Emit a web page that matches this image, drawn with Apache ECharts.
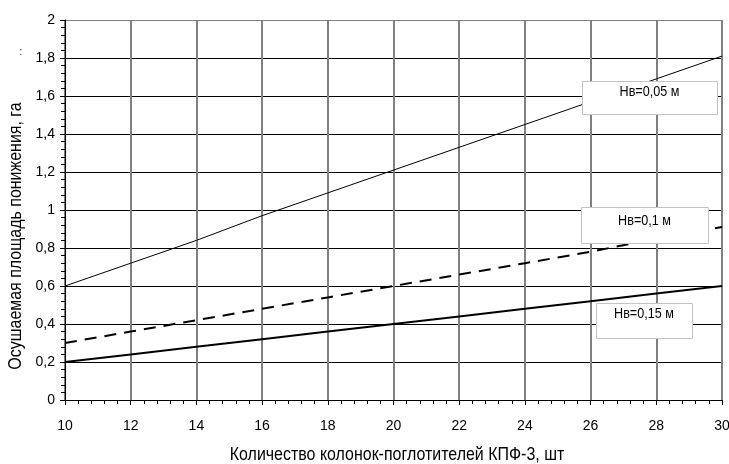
<!DOCTYPE html>
<html>
<head>
<meta charset="utf-8">
<script src="https://cdn.jsdelivr.net/npm/echarts@6/dist/echarts.min.js"></script>
<style>
  html, body { margin: 0; padding: 0; background: #fff; }
  #chart { width: 729px; height: 464px; }
</style>
</head>
<body>
<div id="chart"></div>
<script>
// Number of KPF-3 absorber columns
const columns = [10, 12, 14, 16, 18, 20, 22, 24, 26, 28, 30];

// Drained area (ha) for each water-table lowering depth
const area005 = [0.6, 0.72, 0.84, 0.97, 1.09, 1.21, 1.33, 1.45, 1.57, 1.69, 1.81];
const area010 = [0.3, 0.36, 0.42, 0.48, 0.54, 0.6, 0.66, 0.72, 0.78, 0.85, 0.91];
const area015 = [0.2, 0.24, 0.28, 0.32, 0.36, 0.4, 0.44, 0.48, 0.52, 0.56, 0.6];

const seriesNames = ['Нв=0,05 м', 'Нв=0,1 м', 'Нв=0,15 м'];
const xTitle = 'Количество колонок-поглотителей КПФ-3, шт';
const yTitle = 'Осушаемая площадь понижения, га';

const FONT = '"Liberation Sans Narrow", "Arial Narrow", "Liberation Sans", Arial, sans-serif';
const pairs = arr => columns.map((c, i) => [c, arr[i]]);

// horizontal grid: black, except the top border line which is grey
const yGridColors = ['#000', '#000', '#000', '#000', '#000', '#000', '#000', '#000', '#000', '#000', '#808080'];

// narrow-looking captions: regular sans squeezed horizontally
const SQUEEZE = 0.84;

const chart = echarts.init(document.getElementById('chart'), null, { renderer: 'canvas' });

function tagBox(x, y, w, h, text, textY) {
  return {
    type: 'group',
    children: [
      { type: 'rect', z: 100, shape: { x: x + 0.5, y: y + 0.5, width: w, height: h },
        style: { fill: '#fff', stroke: '#c4c4c4', lineWidth: 1, shadowBlur: 0 } },
      { type: 'text', z: 101, x: x + w / 2, y: textY, scaleX: 0.9,
        style: { x: 0, y: 0, text: text, fill: '#000',
          font: '14px ' + FONT, textAlign: 'center', textVerticalAlign: 'middle' } }
    ]
  };
}

chart.setOption({
  animation: false,
  backgroundColor: '#fff',
  grid: { left: 65, right: 7, top: 20, bottom: 64, outerBoundsMode: 'none', containLabel: false },
  xAxis: {
    type: 'value',
    min: 10, max: 30, interval: 2,
    axisLine: { show: true, onZero: false, lineStyle: { color: '#000', width: 1 } },
    axisTick: { show: true, inside: false, length: 5, lineStyle: { color: '#000' } },
    minorTick: { show: true, splitNumber: 5, length: 4, lineStyle: { color: '#000' } },
    axisLabel: { fontFamily: FONT, fontSize: 14, color: '#000', margin: 19 },
    splitLine: { show: true, lineStyle: { color: '#808080', width: 2 } }
  },
  yAxis: {
    type: 'value',
    min: 0, max: 2, interval: 0.2,
    axisLine: { show: true, lineStyle: { color: '#000', width: 1 } },
    axisTick: { show: true, inside: false, length: 5, lineStyle: { color: '#000' } },
    minorTick: { show: true, splitNumber: 5, length: 4, lineStyle: { color: '#000' } },
    axisLabel: {
      fontFamily: FONT, fontSize: 14, color: '#000', margin: 10,
      formatter: v => String(+v.toFixed(1)).replace('.', ',')
    },
    splitLine: { show: true, lineStyle: { color: yGridColors, width: 1 } }
  },
  series: [
    { name: seriesNames[0], type: 'line', data: pairs(area005), symbol: 'none',
      lineStyle: { color: '#000', width: 1 }, z: 5 },
    { name: seriesNames[1], type: 'line', data: pairs(area010), symbol: 'none',
      lineStyle: { color: '#000', width: 2, type: [12, 8] }, z: 5 },
    { name: seriesNames[2], type: 'line', data: pairs(area015), symbol: 'none',
      lineStyle: { color: '#000', width: 2 }, z: 5 }
  ],
  graphic: [
    { type: 'text', z: 100, x: 16, y: 236, rotation: Math.PI / 2, scaleX: SQUEEZE,
      style: { x: 0, y: 0, text: yTitle, fill: '#000',
        font: '19px ' + FONT, textAlign: 'center', textVerticalAlign: 'middle' } },
    { type: 'text', z: 100, x: 397, y: 455, scaleX: SQUEEZE,
      style: { x: 0, y: 0, text: xTitle, fill: '#000',
        font: '19px ' + FONT, textAlign: 'center', textVerticalAlign: 'middle' } },
    { type: 'text', z: 100, style: { x: 21, y: 52, text: ':', fill: '#000',
      font: '10px ' + FONT, textAlign: 'center', textVerticalAlign: 'middle' } },
    tagBox(582, 81, 135, 33, seriesNames[0], 92),
    tagBox(581, 207, 127, 36, seriesNames[1], 221),
    tagBox(596, 303, 96, 35, seriesNames[2], 314)
  ]
});
</script>
</body>
</html>
